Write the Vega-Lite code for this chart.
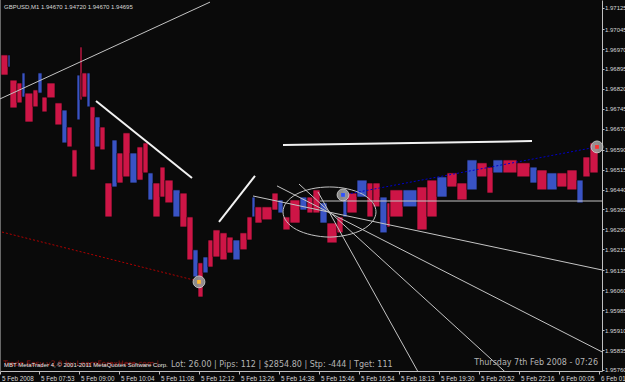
{
"$schema": "https://vega.github.io/schema/vega-lite/v6.json",
"width": 602, "height": 371,
"autosize": {"type": "none"},
"padding": {"left": 0, "top": 0, "right": 23, "bottom": 11},
"background": "#0a0a0a",
"config": {"view": {"stroke": null}, "axis": {"grid": false}},
"datasets": {
"bars": [
{"x":1,"x2":8,"p":1.96948,"p2":1.96872,"c":"r"},
{"x":8,"x2":10,"p":1.96948,"p2":1.96902,"c":"b"},
{"x":10,"x2":17,"p":1.96853,"p2":1.96748,"c":"r"},
{"x":17,"x2":22,"p":1.96842,"p2":1.96767,"c":"r"},
{"x":22,"x2":25,"p":1.96880,"p2":1.96789,"c":"b"},
{"x":25,"x2":33,"p":1.96804,"p2":1.96695,"c":"r"},
{"x":33,"x2":38,"p":1.96816,"p2":1.96752,"c":"r"},
{"x":38,"x2":42,"p":1.96880,"p2":1.96804,"c":"b"},
{"x":42,"x2":47,"p":1.96789,"p2":1.96733,"c":"r"},
{"x":47,"x2":55,"p":1.96842,"p2":1.96786,"c":"r"},
{"x":55,"x2":62,"p":1.96767,"p2":1.96684,"c":"r"},
{"x":62,"x2":67,"p":1.96740,"p2":1.96616,"c":"b"},
{"x":67,"x2":72,"p":1.96676,"p2":1.96601,"c":"r"},
{"x":72,"x2":77,"p":1.96590,"p2":1.96488,"c":"r"},
{"x":77,"x2":80,"p":1.96872,"p2":1.96703,"c":"b"},
{"x":80,"x2":82,"p":1.96978,"p2":1.96778,"c":"r"},
{"x":82,"x2":87,"p":1.96880,"p2":1.96789,"c":"r"},
{"x":87,"x2":90,"p":1.96880,"p2":1.96752,"c":"b"},
{"x":90,"x2":95,"p":1.96752,"p2":1.96514,"c":"r"},
{"x":95,"x2":100,"p":1.96714,"p2":1.96601,"c":"b"},
{"x":100,"x2":105,"p":1.96676,"p2":1.96590,"c":"r"},
{"x":105,"x2":112,"p":1.96465,"p2":1.96337,"c":"r"},
{"x":112,"x2":117,"p":1.96627,"p2":1.96450,"c":"b"},
{"x":117,"x2":123,"p":1.96578,"p2":1.96465,"c":"r"},
{"x":123,"x2":130,"p":1.96654,"p2":1.96488,"c":"r"},
{"x":130,"x2":137,"p":1.96578,"p2":1.96465,"c":"b"},
{"x":137,"x2":143,"p":1.96601,"p2":1.96476,"c":"r"},
{"x":143,"x2":148,"p":1.96616,"p2":1.96503,"c":"r"},
{"x":148,"x2":153,"p":1.96503,"p2":1.96401,"c":"b"},
{"x":153,"x2":160,"p":1.96465,"p2":1.96337,"c":"r"},
{"x":160,"x2":165,"p":1.96525,"p2":1.96412,"c":"r"},
{"x":165,"x2":173,"p":1.96476,"p2":1.96390,"c":"r"},
{"x":173,"x2":180,"p":1.96439,"p2":1.96337,"c":"b"},
{"x":180,"x2":187,"p":1.96427,"p2":1.96299,"c":"r"},
{"x":187,"x2":193,"p":1.96337,"p2":1.96175,"c":"r"},
{"x":193,"x2":198,"p":1.96213,"p2":1.96111,"c":"b"},
{"x":198,"x2":203,"p":1.96164,"p2":1.96035,"c":"r"},
{"x":203,"x2":208,"p":1.96186,"p2":1.96126,"c":"b"},
{"x":208,"x2":213,"p":1.96250,"p2":1.96148,"c":"r"},
{"x":213,"x2":220,"p":1.96288,"p2":1.96186,"c":"r"},
{"x":220,"x2":227,"p":1.96277,"p2":1.96175,"c":"r"},
{"x":227,"x2":233,"p":1.96261,"p2":1.96201,"c":"r"},
{"x":233,"x2":240,"p":1.96250,"p2":1.96175,"c":"b"},
{"x":240,"x2":247,"p":1.96277,"p2":1.96213,"c":"r"},
{"x":247,"x2":252,"p":1.96337,"p2":1.96250,"c":"r"},
{"x":252,"x2":255,"p":1.96412,"p2":1.96337,"c":"b"},
{"x":255,"x2":262,"p":1.96375,"p2":1.96314,"c":"r"},
{"x":262,"x2":272,"p":1.96375,"p2":1.96326,"c":"r"},
{"x":272,"x2":278,"p":1.96427,"p2":1.96363,"c":"r"},
{"x":278,"x2":283,"p":1.96401,"p2":1.96352,"c":"b"},
{"x":283,"x2":290,"p":1.96337,"p2":1.96288,"c":"r"},
{"x":290,"x2":300,"p":1.96401,"p2":1.96314,"c":"r"},
{"x":300,"x2":307,"p":1.96412,"p2":1.96363,"c":"b"},
{"x":307,"x2":313,"p":1.96412,"p2":1.96352,"c":"r"},
{"x":313,"x2":320,"p":1.96439,"p2":1.96352,"c":"r"},
{"x":320,"x2":327,"p":1.96390,"p2":1.96314,"c":"b"},
{"x":327,"x2":337,"p":1.96314,"p2":1.96239,"c":"r"},
{"x":337,"x2":343,"p":1.96337,"p2":1.96277,"c":"r"},
{"x":343,"x2":347,"p":1.96439,"p2":1.96337,"c":"b"},
{"x":347,"x2":357,"p":1.96427,"p2":1.96352,"c":"r"},
{"x":357,"x2":367,"p":1.96476,"p2":1.96412,"c":"b"},
{"x":367,"x2":373,"p":1.96465,"p2":1.96337,"c":"r"},
{"x":373,"x2":380,"p":1.96465,"p2":1.96375,"c":"r"},
{"x":380,"x2":387,"p":1.96412,"p2":1.96277,"c":"b"},
{"x":387,"x2":390,"p":1.96390,"p2":1.96299,"c":"r"},
{"x":390,"x2":403,"p":1.96439,"p2":1.96337,"c":"r"},
{"x":403,"x2":417,"p":1.96439,"p2":1.96375,"c":"b"},
{"x":417,"x2":427,"p":1.96450,"p2":1.96288,"c":"r"},
{"x":427,"x2":437,"p":1.96476,"p2":1.96337,"c":"r"},
{"x":437,"x2":447,"p":1.96488,"p2":1.96412,"c":"b"},
{"x":447,"x2":457,"p":1.96503,"p2":1.96450,"c":"r"},
{"x":457,"x2":467,"p":1.96465,"p2":1.96401,"c":"r"},
{"x":467,"x2":477,"p":1.96552,"p2":1.96439,"c":"b"},
{"x":477,"x2":487,"p":1.96541,"p2":1.96488,"c":"r"},
{"x":487,"x2":493,"p":1.96525,"p2":1.96427,"c":"r"},
{"x":493,"x2":503,"p":1.96552,"p2":1.96503,"c":"b"},
{"x":503,"x2":517,"p":1.96552,"p2":1.96503,"c":"r"},
{"x":517,"x2":530,"p":1.96541,"p2":1.96488,"c":"r"},
{"x":530,"x2":537,"p":1.96525,"p2":1.96465,"c":"b"},
{"x":537,"x2":547,"p":1.96514,"p2":1.96439,"c":"r"},
{"x":547,"x2":557,"p":1.96503,"p2":1.96439,"c":"b"},
{"x":557,"x2":567,"p":1.96503,"p2":1.96450,"c":"r"},
{"x":567,"x2":577,"p":1.96514,"p2":1.96439,"c":"r"},
{"x":577,"x2":583,"p":1.96476,"p2":1.96390,"c":"b"},
{"x":583,"x2":590,"p":1.96563,"p2":1.96488,"c":"r"},
{"x":590,"x2":598,"p":1.96616,"p2":1.96503,"c":"r"}
],
"thin": [
{"id":"B","x":0,"p":1.95756},{"id":"B","x":0,"p":1.97155},
{"id":"L1","x":0,"p":1.96782},{"id":"L1","x":210,"p":1.97147},
{"id":"H","x":320,"p":1.96397},{"id":"H","x":602,"p":1.96397},
{"id":"F1","x":253,"p":1.96416},{"id":"F1","x":602,"p":1.96137},
{"id":"F2","x":277,"p":1.96454},{"id":"F2","x":602,"p":1.95828},
{"id":"F3","x":299,"p":1.96461},{"id":"F3","x":505,"p":1.95753},
{"id":"F4","x":318,"p":1.96431},{"id":"F4","x":418,"p":1.95753}
],
"thick": [
{"id":"T1","x":96,"p":1.96774},{"id":"T1","x":192,"p":1.96484},
{"id":"T2","x":219,"p":1.96318},{"id":"T2","x":255,"p":1.96492},
{"id":"T3","x":283,"p":1.96608},{"id":"T3","x":532,"p":1.96623}
],
"reddot": [{"x":2,"p":1.96280},{"x":197,"p":1.96096}],
"bluedot": [{"x":343,"p":1.96420},{"x":597,"p":1.96601}],
"marks": [{"x":199,"p":1.96092,"k":"o"},{"x":343,"p":1.96420,"k":"b"},{"x":597,"p":1.96601,"k":"r"}],
"ellipse": [
{"o":0,"x":376,"p":1.96356},{"o":1,"x":372.5,"p":1.96392},{"o":2,"x":362.4,"p":1.96423},{"o":3,"x":347.3,"p":1.96443},
{"o":4,"x":329.5,"p":1.96450},{"o":5,"x":311.7,"p":1.96443},{"o":6,"x":296.6,"p":1.96423},{"o":7,"x":286.5,"p":1.96392},
{"o":8,"x":283,"p":1.96356},{"o":9,"x":286.5,"p":1.96320},{"o":10,"x":296.6,"p":1.96289},{"o":11,"x":311.7,"p":1.96269},
{"o":12,"x":329.5,"p":1.96261},{"o":13,"x":347.3,"p":1.96269},{"o":14,"x":362.4,"p":1.96289},{"o":15,"x":372.5,"p":1.96320}
]
},
"encoding": {
"x": {"field": "x", "type": "quantitative", "scale": {"domain": [0, 602], "nice": false, "zero": false},
  "axis": {"title": null, "orient": "bottom", "values": [0,39,79,119,159,199,239,279,319,359,399,439,479,519,559,599],
    "labelExpr": "['5 Feb 2008','5 Feb 07:53','5 Feb 09:00','5 Feb 10:04','5 Feb 11:08','5 Feb 12:12','5 Feb 13:26','5 Feb 14:38','5 Feb 15:46','5 Feb 16:54','5 Feb 18:13','5 Feb 19:30','5 Feb 20:52','5 Feb 22:16','6 Feb 00:05','6 Feb 01:25'][round((datum.value+1)/40)]",
    "labelAlign": "left", "labelOffset": 1.5, "labelFont": "Liberation Sans", "labelFontSize": 6.3, "labelColor": "#d8d8d8",
    "labelPadding": 1, "labelBound": false, "labelOverlap": false, "labelFlush": false,
    "domainColor": "#c0c0c0", "tickColor": "#c0c0c0", "tickSize": 3, "grid": false}},
"y": {"field": "p", "type": "quantitative", "scale": {"domain": [1.95756, 1.97155], "nice": false, "zero": false},
  "axis": {"title": null, "orient": "right", "values": [1.97125,1.97045,1.9697,1.96895,1.9682,1.96745,1.9667,1.9659,1.96515,1.9644,1.96365,1.9629,1.96215,1.96135,1.9606,1.95985,1.9591,1.95835,1.9576],
    "format": ".5f", "labelFont": "Liberation Sans", "labelFontSize": 6, "labelColor": "#d8d8d8", "labelPadding": 0.5,
    "labelBound": false, "labelOverlap": false, "labelFlush": false,
    "domainColor": "#c0c0c0", "tickColor": "#c0c0c0", "tickSize": 2, "grid": false}}
},
"layer": [
{"data": {"name": "bars"}, "mark": {"type": "rect", "opacity": 0.9, "stroke": "#0a0a0a", "strokeWidth": 0.7},
 "encoding": {"x2": {"field": "x2"}, "y2": {"field": "p2"},
   "color": {"field": "c", "type": "nominal", "scale": {"domain": ["r","b"], "range": ["#e3174d","#3f5bd9"]}, "legend": null}}},
{"data": {"name": "thin"}, "mark": {"type": "line", "color": "#c4c4c4", "strokeWidth": 1, "clip": true},
 "encoding": {"detail": {"field": "id"}}},
{"data": {"name": "ellipse"}, "mark": {"type": "line", "color": "#c4c4c4", "strokeWidth": 1, "interpolate": "cardinal-closed"},
 "encoding": {"order": {"field": "o", "type": "quantitative"}}},
{"data": {"name": "thick"}, "mark": {"type": "line", "color": "#f2f2f2", "strokeWidth": 2},
 "encoding": {"detail": {"field": "id"}}},
{"data": {"name": "reddot"}, "mark": {"type": "line", "color": "#b00000", "strokeWidth": 1, "strokeDash": [2, 2]}, "encoding": {}},
{"data": {"name": "bluedot"}, "mark": {"type": "line", "color": "#0000c8", "strokeWidth": 1, "strokeDash": [2, 2]}, "encoding": {}},
{"data": {"name": "marks"}, "mark": {"type": "point", "filled": true, "size": 140, "color": "#9a9a9a", "opacity": 0.9, "stroke": "#d0d0d0", "strokeWidth": 1}},
{"data": {"name": "marks"}, "mark": {"type": "square", "size": 14, "opacity": 1},
 "encoding": {"fill": {"field": "k", "type": "nominal", "scale": {"domain": ["o","b","r"], "range": ["#ffb830","#3050ff","#ff3030"]}, "legend": null}}},
{"data": {"values": [{"x":4,"p":1.97130,"t":"GBPUSD,M1  1.94670 1.94720 1.94670 1.94695"}]},
 "mark": {"type": "text", "align": "left", "baseline": "middle", "font": "Liberation Sans", "fontSize": 6, "color": "#d8d8d8"},
 "encoding": {"text": {"field": "t"}}},
{"data": {"values": [{"x":3,"p":1.95783,"t":"Trade Easy v2.0 by LearnForexHere.com |"}]},
 "mark": {"type": "text", "align": "left", "baseline": "middle", "font": "DejaVu Sans", "fontSize": 7.5, "color": "#8e1414"},
 "encoding": {"text": {"field": "t"}}},
{"data": {"values": [{"x":4,"p":1.95779,"t":"MBT MetaTrader 4, © 2001-2011 MetaQuotes Software Corp."}]},
 "mark": {"type": "text", "align": "left", "baseline": "middle", "font": "Liberation Sans", "fontSize": 6, "color": "#e6e6e6"},
 "encoding": {"text": {"field": "t"}}},
{"data": {"values": [{"x":171,"p":1.95779,"t":"Lot: 26.00 | Pips: 112 | $2854.80 | Stp: -444 | Tget: 111"}]},
 "mark": {"type": "text", "align": "left", "baseline": "middle", "font": "DejaVu Sans", "fontSize": 8, "color": "#b4b4b4"},
 "encoding": {"text": {"field": "t"}}},
{"data": {"values": [{"x":598,"p":1.95785,"t":"Thursday 7th Feb 2008 - 07:26"}]},
 "mark": {"type": "text", "align": "right", "baseline": "middle", "font": "DejaVu Sans", "fontSize": 8, "color": "#b4b4b4"},
 "encoding": {"text": {"field": "t"}}}
],
"resolve": {"scale": {"color": "independent", "fill": "independent"}}
}
